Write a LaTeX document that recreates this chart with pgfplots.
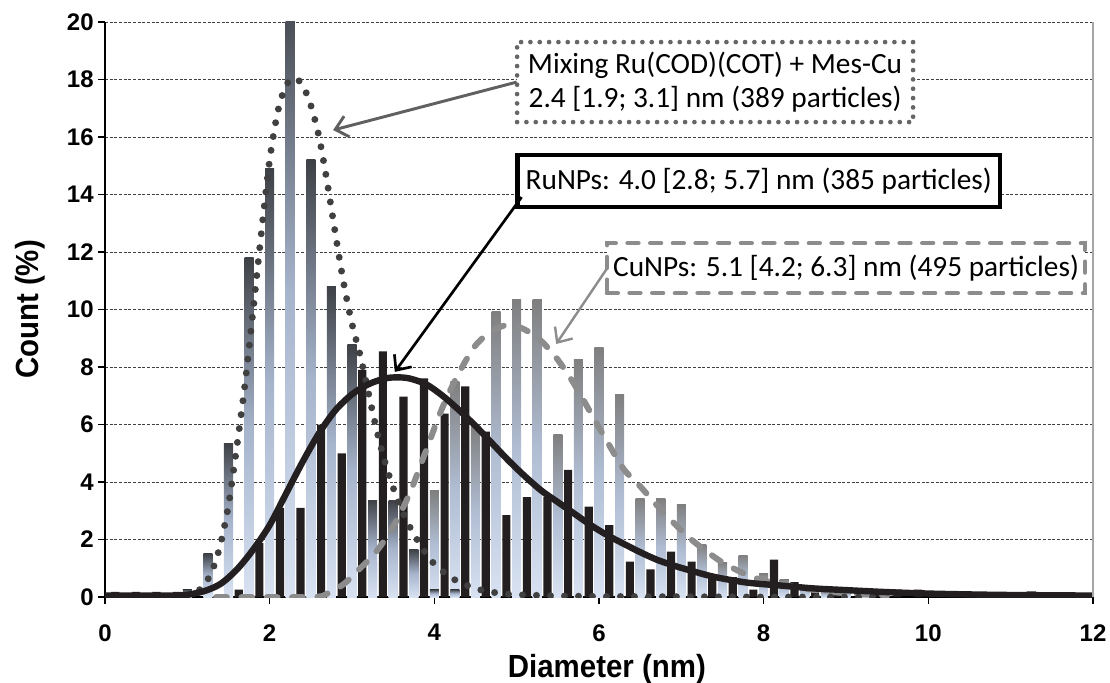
\documentclass[border=0pt]{standalone}
\usepackage{fontspec}
\setmainfont{Liberation Sans}
\newfontfamily\calibri{Carlito}
\usepackage{pgfplots}
\pgfplotsset{compat=1.18}
\usetikzlibrary{arrows.meta}
\definecolor{mixtop}{HTML}{3E4146}
\definecolor{mixmid}{HTML}{A6B4CC}
\definecolor{mixbot}{HTML}{D8E2F2}
\definecolor{cutop}{HTML}{7F7F7F}
\definecolor{cumid}{HTML}{B0BDD3}
\definecolor{cubot}{HTML}{D8E2F2}
\definecolor{rubar}{HTML}{231F20}
\definecolor{dotcol}{HTML}{404040}
\definecolor{dashcol}{HTML}{8C8C8C}
\definecolor{boxdot}{HTML}{666666}
\definecolor{arrgray}{HTML}{606060}

\pgfplotsset{
  cubar/.style={ybar, bar width=0.11, bar shift=0pt, draw=none, top color=cutop, bottom color=cubot, middle color=cumid, forget plot},
  mixbar/.style={ybar, bar width=0.11, bar shift=0pt, draw=none, top color=mixtop, bottom color=mixbot, middle color=mixmid, forget plot},
}

\pgfplotstableread{
x y
0.125 0.18
0.375 0.18
0.625 0.18
0.875 0.18
1.625 0.26
1.875 1.87
2.125 3.1
2.375 3.1
2.625 6.0
2.875 5.0
3.125 7.9
3.375 8.54
3.625 6.97
3.875 7.6
4.125 6.38
4.375 7.33
4.625 5.75
4.875 2.85
5.125 3.47
5.375 3.47
5.625 4.42
5.875 3.14
6.125 2.5
6.375 1.23
6.625 0.96
6.875 1.58
7.125 1.23
7.375 0.78
7.625 0.69
7.875 0.26
8.125 1.3
8.375 0.52
8.625 0.26
8.875 0.26
9.375 0.26
9.625 0.26
9.875 0.26
}\rubars

\begin{document}
\begin{tikzpicture}
\useasboundingbox (-78.75pt,-63.75pt) rectangle (753.75pt,447.75pt);
\begin{axis}[
  at={(0pt,0pt)}, anchor=south west,
  scale only axis, width=741pt, height=431.25pt,
  xmin=0, xmax=12, ymin=0, ymax=20,
  xtick={0,2,...,12}, ytick={0,2,...,20},
  axis x line*=bottom, axis y line*=left,
  axis line style={line width=1.5pt, black},
  tick align=outside, major tick length=5pt,
  tick style={line width=1.2pt, black},
  ymajorgrids,
  major grid style={line width=0.6pt, black!75, dash pattern=on 2.2pt off 1.3pt},
  ticklabel style={font=\bfseries\fontsize{18}{18}\selectfont},
  /pgf/number format/assume math mode=true,
  xticklabel style={yshift=-12pt},
  xlabel={Diameter (nm)}, ylabel={Count (\%)},
  label style={font=\bfseries\fontsize{24}{24}\selectfont},
  xlabel style={at={(axis description cs:0.508,-0.125)}, anchor=center, xscale=0.92},
  ylabel style={at={(axis description cs:-0.0756,0.5)}, anchor=center, xscale=0.92},
]
% CuNPs histogram (each bar its own gradient)
\addplot[cubar] coordinates {(3.00,0.4)};
\addplot[cubar] coordinates {(3.25,1.2)};
\addplot[cubar] coordinates {(3.50,1.6)};
\addplot[cubar] coordinates {(3.75,1.6)};
\addplot[cubar] coordinates {(4.00,3.69)};
\addplot[cubar] coordinates {(4.25,7.48)};
\addplot[cubar] coordinates {(4.50,5.93)};
\addplot[cubar] coordinates {(4.75,9.94)};
\addplot[cubar] coordinates {(5.00,10.35)};
\addplot[cubar] coordinates {(5.25,10.35)};
\addplot[cubar] coordinates {(5.50,5.66)};
\addplot[cubar] coordinates {(5.75,8.27)};
\addplot[cubar] coordinates {(6.00,8.69)};
\addplot[cubar] coordinates {(6.25,7.05)};
\addplot[cubar] coordinates {(6.50,3.44)};
\addplot[cubar] coordinates {(6.75,3.44)};
\addplot[cubar] coordinates {(7.00,3.23)};
\addplot[cubar] coordinates {(7.25,1.83)};
\addplot[cubar] coordinates {(7.50,1.2)};
\addplot[cubar] coordinates {(7.75,1.45)};
\addplot[cubar] coordinates {(8.00,0.81)};
\addplot[cubar] coordinates {(8.25,0.6)};
\addplot[cubar] coordinates {(8.50,0.4)};
\addplot[cubar] coordinates {(8.75,0.2)};
\addplot[cubar] coordinates {(9.00,0.2)};
\addplot[cubar] coordinates {(9.25,0.2)};
\addplot[cubar] coordinates {(11.25,0.2)};
% Mixing histogram
\addplot[mixbar] coordinates {(1.00,0.26)};
\addplot[mixbar] coordinates {(1.25,1.5)};
\addplot[mixbar] coordinates {(1.50,5.35)};
\addplot[mixbar] coordinates {(1.75,11.8)};
\addplot[mixbar] coordinates {(2.00,14.9)};
\addplot[mixbar] coordinates {(2.25,21.3)};
\addplot[mixbar] coordinates {(2.50,15.2)};
\addplot[mixbar] coordinates {(2.75,10.8)};
\addplot[mixbar] coordinates {(3.00,8.77)};
\addplot[mixbar] coordinates {(3.25,3.37)};
\addplot[mixbar] coordinates {(3.50,3.37)};
\addplot[mixbar] coordinates {(3.75,1.65)};
\addplot[mixbar] coordinates {(4.00,0.26)};
\addplot[mixbar] coordinates {(4.25,0.26)};
% RuNPs histogram
\addplot[ybar, bar width=0.1, bar shift=0pt, draw=none, fill=rubar] table {\rubars};

% CuNPs fit (dashed)
\addplot[no marks, smooth, color=dashcol, line width=4.5pt, line cap=round, dash pattern=on 8pt off 11pt] coordinates {
(1.35,0) (2.5,0.0) (2.7,0.12) (2.9,0.45) (3.1,1.0) (3.3,1.6) (3.5,2.45) (3.7,3.6) (3.9,5.1) (4.1,6.6) (4.3,7.8) (4.5,8.75) (4.7,9.25) (4.9,9.47) (5.1,9.3) (5.3,8.9) (5.5,8.25) (5.7,7.4) (5.9,6.4) (6.1,5.4) (6.3,4.45) (6.5,3.85) (6.7,3.2) (6.9,2.6) (7.1,2.05) (7.3,1.6) (7.5,1.2) (7.7,0.9) (7.9,0.66) (8.2,0.45) (8.6,0.25) (9.0,0.13) (9.5,0.05)
};
% Mixing fit (dotted)
\addplot[no marks, smooth, color=dotcol, line width=5.2pt, line cap=round, dash pattern=on 0pt off 10.5pt] coordinates {
(1.0,0.03) (1.1,0.15) (1.2,0.4) (1.3,0.9) (1.4,1.8) (1.5,3.2) (1.6,5.2) (1.7,7.4) (1.8,10.0) (1.9,12.7) (2.0,15.2) (2.1,16.9) (2.2,17.8) (2.3,18.05) (2.4,17.8) (2.5,17.1) (2.6,16.0) (2.7,14.4) (2.8,12.6) (2.9,10.9) (3.0,9.5) (3.1,8.4) (3.2,7.1) (3.3,5.8) (3.4,4.7) (3.5,3.8) (3.6,3.05) (3.7,2.45) (3.8,1.95) (3.9,1.5) (4.0,1.15) (4.2,0.68) (4.4,0.4) (4.6,0.22) (4.8,0.13) (5.0,0.08) (5.5,0.04) (6.0,0.02) (7.0,0.01) (8.0,0) (9.4,0)
};
% RuNPs fit (solid)
\addplot[no marks, smooth, color=rubar, line width=4.8pt] coordinates {
(0,0.05) (0.8,0.05) (1.0,0.08) (1.2,0.2) (1.4,0.45) (1.6,0.95) (1.8,1.65) (2.0,2.5) (2.2,3.6) (2.4,4.7) (2.6,5.7) (2.8,6.5) (3.0,7.05) (3.2,7.4) (3.4,7.6) (3.55,7.64) (3.7,7.6) (3.9,7.4) (4.1,7.0) (4.3,6.5) (4.5,5.95) (4.7,5.35) (4.9,4.75) (5.1,4.2) (5.3,3.7) (5.5,3.3) (5.7,2.9) (5.9,2.5) (6.1,2.15) (6.3,1.85) (6.5,1.56) (6.7,1.3) (6.9,1.1) (7.1,0.93) (7.4,0.7) (7.8,0.5) (8.2,0.4) (8.6,0.3) (9.0,0.24) (9.5,0.17) (10,0.12) (10.5,0.09) (11,0.07) (12,0.05)
};

% annotations
\node[draw=boxdot, line width=3.5pt, line cap=round, dash pattern=on 0pt off 7pt, fill=white,
      minimum width=297pt, minimum height=60pt, inner sep=0pt, align=center,
      font=\calibri\fontsize{22}{25}\selectfont] (b1) at (axis cs:7.41,17.91)
      {Mixing Ru(COD)(COT) + Mes-Cu\\2.4 [1.9; 3.1] nm (389 particles)};
\node[draw=black, line width=3.5pt, fill=white,
      minimum width=362pt, minimum height=39pt, inner sep=0pt,
      font=\calibri\fontsize{22}{25}\selectfont] (b2) at (axis cs:7.94,14.47)
      {RuNPs: 4.0 [2.8; 5.7] nm (385 particles)};
\node[draw=dashcol, line width=3.5pt, line cap=round, dash pattern=on 8pt off 9pt, fill=white,
      minimum width=358.5pt, minimum height=37.5pt, inner sep=0pt,
      font=\calibri\fontsize{22}{25}\selectfont] (b3) at (axis cs:9.0,11.44)
      {CuNPs: 5.1 [4.2; 6.3] nm (495 particles)};
\draw[arrgray, line width=2.2pt, -{Straight Barb[length=9pt,width=16pt,line width=2.2pt]}] (axis cs:5.0,17.91) -- (axis cs:2.77,16.24);
\draw[black, line width=2pt, -{Straight Barb[length=9pt,width=16pt,line width=2pt]}] (axis cs:5.06,13.91) -- (axis cs:3.52,7.83);
\draw[dashcol, line width=1.8pt, -{Straight Barb[length=9pt,width=16pt,line width=1.8pt]}] (axis cs:6.1,11.44) -- (axis cs:5.48,8.8);
\end{axis}
\draw[black!35, line width=1.5pt] (741pt,0pt) -- (741pt,431.25pt);
\end{tikzpicture}
\end{document}
